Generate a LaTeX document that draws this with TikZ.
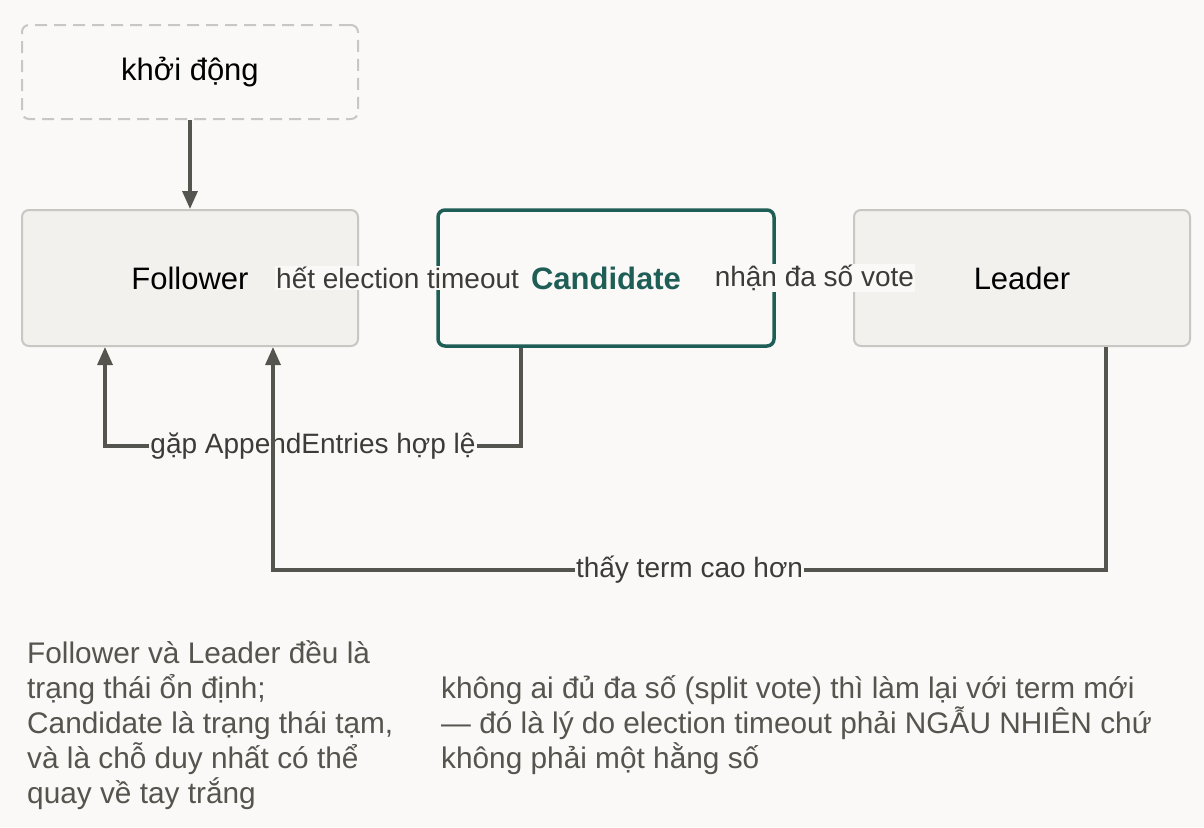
\documentclass[tikz,border=0pt]{standalone}
\usepackage{fontspec}
\setmainfont{Liberation Sans}
\usetikzlibrary{arrows.meta}
\definecolor{bg}{HTML}{FAF9F7}
\definecolor{boxf}{HTML}{F2F1EE}
\definecolor{boxd}{HTML}{C9C7C3}
\definecolor{ln}{HTML}{55554F}
\definecolor{teal}{HTML}{1E5E56}
\begin{document}
\begin{tikzpicture}[x=1pt,y=-1pt,
  box/.style={draw=boxd,line width=2pt,fill=boxf,rounded corners=7pt,minimum width=336pt,minimum height=136pt,font=\fontsize{31}{36}\selectfont,text=black},
  conn/.style={draw=ln,line width=3.2pt,-{Triangle[length=18pt,width=15pt]}},
  lab/.style={fill=bg,inner sep=1pt,font=\fontsize{28}{32}\selectfont,text=ln!70!black},
  note/.style={align=left,anchor=north west,font=\fontsize{29.8}{35}\selectfont,text=ln,inner sep=0pt}]
\fill[bg] (0,0) rectangle (1204,827);
\useasboundingbox (0,0) rectangle (1204,827);
\node[box,dash pattern=on 12pt off 7pt,fill=bg,minimum height=94pt] (start) at (190,72) {khởi động};
\node[box] (fol) at (190,278) {Follower};
\node[box,draw=teal,line width=3.5pt,fill=bg,text=teal,font=\fontsize{31}{36}\selectfont\bfseries] (cand) at (606,278) {Candidate};
\node[box] (lead) at (1022,278) {Leader};
\draw[conn] (start) -- (fol);
\draw[conn] (fol) -- node[lab]{hết election timeout} (cand);
\draw[conn] (cand) -- node[lab]{nhận đa số vote} (lead);
\coordinate (c1) at (521,446); \coordinate (c2) at (105,446);
\draw[conn] (cand.south -| c1) -- (c1) -- node[lab,pos=0.5]{gặp AppendEntries hợp lệ} (c2) -- (fol.south -| c2);
\coordinate (l1) at (1106,570); \coordinate (l2) at (273,570);
\draw[conn] (lead.south -| l1) -- (l1) -- node[lab,pos=0.5]{thấy term cao hơn} (l2) -- (fol.south -| l2);
\node[note] (n1) at (27,640) {Follower và Leader đều là\\trạng thái ổn định;\\Candidate là trạng thái tạm,\\và là chỗ duy nhất có thể\\quay về tay trắng};
\node[note] (n2) at (441,675) {không ai đủ đa số (split vote) thì làm lại với term mới\\— đó là lý do election timeout phải NGẪU NHIÊN chứ\\không phải một hằng số};
\end{tikzpicture}
\end{document}
